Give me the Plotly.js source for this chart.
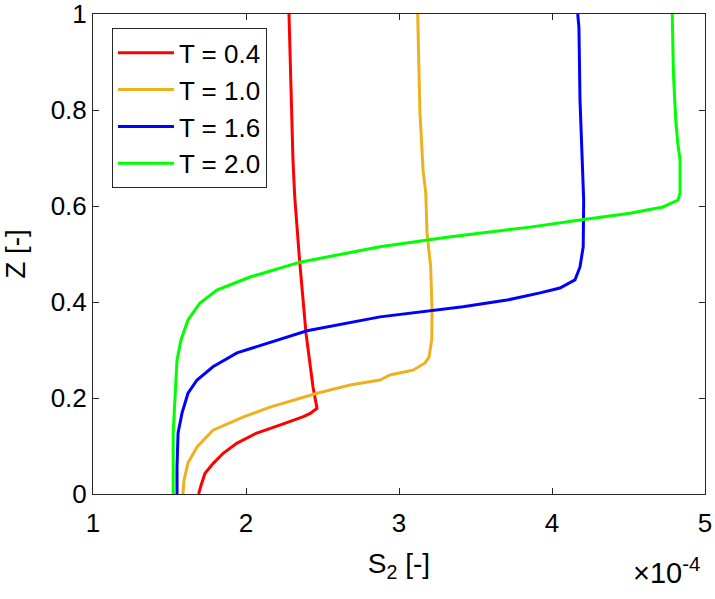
<!DOCTYPE html>
<html>
<head>
<meta charset="utf-8">
<script src="https://cdn.plot.ly/plotly-3.0.1.min.js"></script>
<style>
  html, body { margin: 0; padding: 0; background: #fff; }
  #chart { width: 715px; height: 599px; }
</style>
</head>
<body>
<div id="chart"></div>
<script>
// S2 values are in units of 1e-4 (the axis carries the x10^-4 factor)
const redS = [2.281, 2.291, 2.297, 2.307, 2.317, 2.320, 2.350, 2.392, 2.438, 2.464, 2.420, 2.375, 2.244, 2.070, 1.939, 1.851, 1.786, 1.732, 1.710, 1.690];
const redZ = [1.0, 0.883, 0.769, 0.696, 0.629, 0.6125, 0.4875, 0.335, 0.223, 0.1785, 0.168, 0.161, 0.146, 0.127, 0.1056, 0.0848, 0.0639, 0.043, 0.022, 0];

const orangeS = [3.122, 3.131, 3.137, 3.148, 3.157, 3.175, 3.183, 3.207, 3.216, 3.214, 3.196, 3.170, 3.092, 2.941, 2.876, 2.680, 2.464, 2.157, 1.980, 1.784, 1.680, 1.621, 1.595, 1.588];
const orangeZ = [1.0, 0.9, 0.794, 0.731, 0.675, 0.627, 0.544, 0.473, 0.383, 0.321, 0.285, 0.273, 0.258, 0.248, 0.2375, 0.227, 0.210, 0.181, 0.160, 0.133, 0.098, 0.065, 0.029, 0];

const blueS = [4.168, 4.176, 4.183, 4.194, 4.204, 4.207, 4.204, 4.183, 4.150, 4.052, 3.922, 3.706, 3.418, 3.092, 2.876, 2.399, 2.157, 1.941, 1.784, 1.680, 1.621, 1.582, 1.556, 1.549, 1.549];
const blueZ = [1.0, 0.973, 0.821, 0.7375, 0.669, 0.6125, 0.515, 0.473, 0.446, 0.429, 0.419, 0.404, 0.390, 0.377, 0.369, 0.340, 0.315, 0.294, 0.265, 0.2375, 0.210, 0.169, 0.127, 0.056, 0];

const greenS = [4.786, 4.793, 4.802, 4.810, 4.822, 4.837, 4.837, 4.824, 4.725, 4.510, 4.183, 3.856, 3.314, 2.876, 2.353, 2.026, 1.810, 1.699, 1.621, 1.575, 1.549, 1.536, 1.524, 1.524];
const greenZ = [1.0, 0.883, 0.821, 0.773, 0.731, 0.696, 0.627, 0.6125, 0.598, 0.585, 0.571, 0.556, 0.535, 0.515, 0.483, 0.452, 0.425, 0.398, 0.3625, 0.321, 0.279, 0.210, 0.127, 0];

const seriesNames = ['T = 0.4', 'T = 1.0', 'T = 1.6', 'T = 2.0'];
const seriesColors = ['#ff0000', '#edb120', '#0000ff', '#00ff00'];
const xTicks = [1, 2, 3, 4, 5];
const yTicks = [0, 0.2, 0.4, 0.6, 0.8, 1];

const axisColor = '#262626';
const fontFamily = '"Liberation Sans", Arial, sans-serif';

const xs = [redS, orangeS, blueS, greenS];
const zs = [redZ, orangeZ, blueZ, greenZ];

const traces = seriesNames.map((name, i) => ({
  type: 'scatter',
  mode: 'lines',
  name,
  x: xs[i],
  y: zs[i],
  line: { color: seriesColors[i], width: 3 },
}));

const axisBase = {
  showgrid: false,
  zeroline: false,
  showline: true,
  linecolor: axisColor,
  linewidth: 1,
  mirror: 'ticks',
  ticks: 'inside',
  ticklen: 6,
  tickcolor: axisColor,
  ticklabeloverflow: 'allow',
  tickfont: { family: fontFamily, size: 26, color: '#000' },
};

const layout = {
  width: 715,
  height: 599,
  margin: { l: 93, r: 10, t: 14, b: 105 },
  paper_bgcolor: '#fff',
  plot_bgcolor: '#fff',
  font: { family: fontFamily, color: '#000' },
  xaxis: {
    ...axisBase,
    range: [1, 5],
    tickvals: xTicks,
    ticktext: xTicks.map(String),
    ticklabelstandoff: 6,
    title: { text: 'S<sub>2</sub> [-]', font: { family: fontFamily, size: 28 }, standoff: 16 },
  },
  yaxis: {
    ...axisBase,
    range: [0, 1],
    tickvals: yTicks,
    ticktext: yTicks.map(String),
    title: { text: 'Z [-]', font: { family: fontFamily, size: 28 }, standoff: 18 },
  },
  legend: {
    x: 0.031,
    y: 0.97,
    xanchor: 'left',
    yanchor: 'top',
    bgcolor: '#fff',
    bordercolor: axisColor,
    borderwidth: 1,
    itemwidth: 56,
    font: { family: fontFamily, size: 26, color: '#000' },
  },
  annotations: [{
    xref: 'paper',
    yref: 'paper',
    x: 0.995,
    y: -0.118,
    xanchor: 'right',
    yanchor: 'top',
    showarrow: false,
    text: '\u00d710<sup>-4</sup>',
    font: { family: fontFamily, size: 29, color: '#000' },
  }],
};

Plotly.newPlot('chart', traces, layout, { staticPlot: true, displayModeBar: false });
</script>
</body>
</html>
